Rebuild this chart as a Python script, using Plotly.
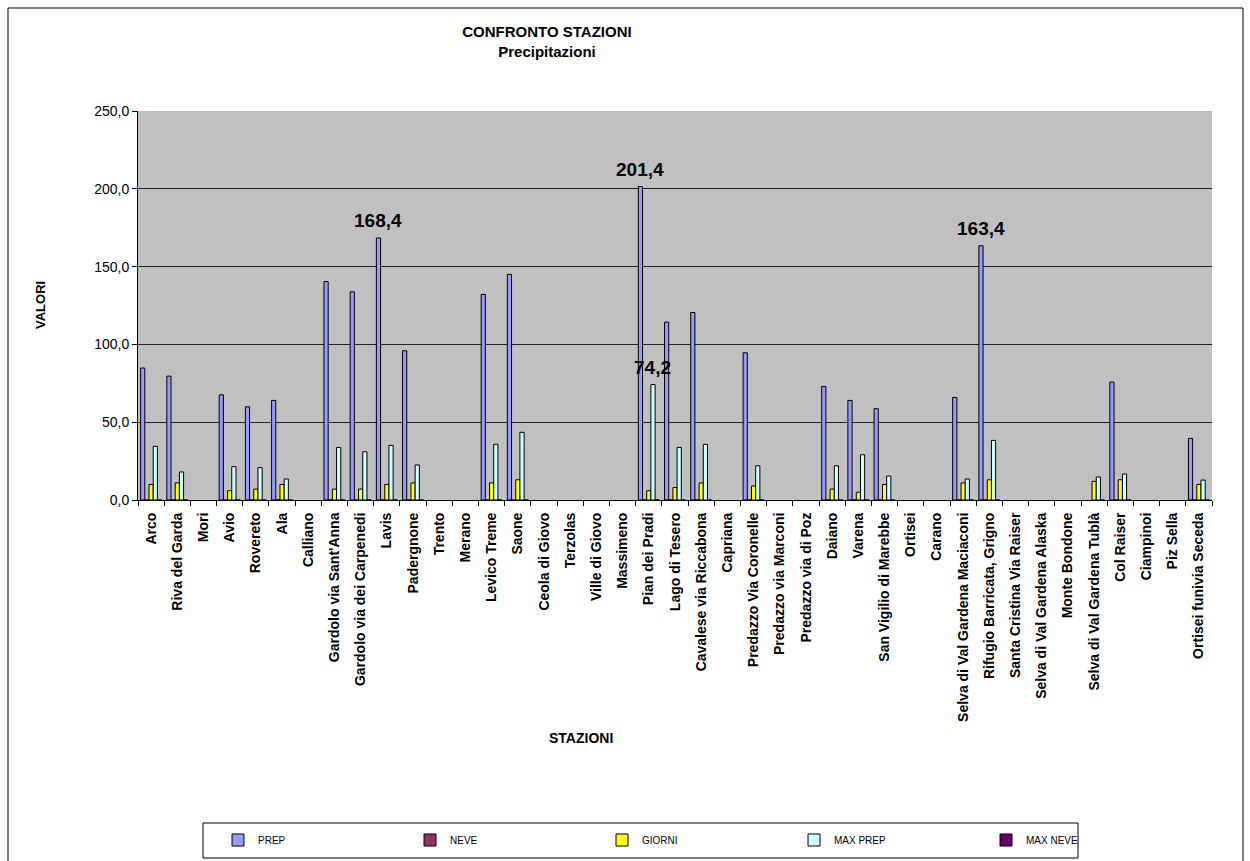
import plotly.graph_objects as go

stations = ["Arco", "Riva del Garda", "Mori", "Avio", "Rovereto", "Ala", "Calliano",
            "Gardolo via Sant'Anna", "Gardolo via dei Carpenedi", "Lavis", "Padergnone",
            "Trento", "Merano", "Levico Treme", "Saone", "Ceola di Giovo", "Terzolas",
            "Ville di Giovo", "Massimeno", "Pian dei Pradi", "Lago di Tesero",
            "Cavalese via Riccabona", "Capriana", "Predazzo Via Coronelle",
            "Predazzo via Marconi", "Predazzo via di Poz", "Daiano", "Varena",
            "San Vigilio di Marebbe", "Ortisei", "Carano", "Selva di Val Gardena Maciaconi",
            "Rifugio Barricata, Grigno", "Santa Cristina Via Raiser",
            "Selva di Val Gardena Alaska", "Monte Bondone", "Selva di Val Gardena Tublà",
            "Col Raiser", "Ciampinoi", "Piz Sella", "Ortisei funivia Seceda"]

prep = [84.8, 79.6, None, 67.6, 59.9, 64.0, None, 140.4, 133.8, 168.4, 95.9,
        None, None, 132.1, 145.0, None, None, None, None, 201.4, 114.3,
        120.5, None, 94.6, None, None, 73.0, 64.0, 58.7, None, None, 65.9,
        163.4, None, None, None, None, 75.8, None, None, 39.6]
neve = [0 if p is not None else None for p in prep]
giorni = [10, 11, None, 6, 7, 10, None, 7, 7, 10, 11,
          None, None, 11, 13, None, None, None, None, 6, 8,
          11, None, 9, None, None, 7, 5, 10, None, None, 11,
          13, None, None, None, 12, 13, None, None, 10]
max_prep = [34.5, 18.0, None, 21.4, 20.8, 13.5, None, 33.8, 31.0, 35.1, 22.5,
            None, None, 35.8, 43.5, None, None, None, None, 74.2, 33.8,
            35.8, None, 22.0, None, None, 22.0, 29.1, 15.4, None, None, 13.5,
            38.3, None, None, None, 14.8, 16.7, None, None, 12.8]
max_neve = [0 if v is not None else None for v in max_prep]

prep_labelled = ["Lavis", "Pian dei Pradi", "Rifugio Barricata, Grigno"]
maxprep_labelled = ["Pian dei Pradi"]

def fmt(v):
    return f"{v:.1f}".replace(".", ",")

W, H = 1250, 861
L, R, T, B = 138, 1212, 111, 500

def px_x(p):
    return (p - L) / (R - L)

def px_y(p):
    return (B - p) / (B - T)

FONT = "Liberation Sans, Arial, sans-serif"
line = dict(color="#000000", width=1)

fig = go.Figure()
series = [
    ("PREP", prep, "#9999FF"),
    ("NEVE", neve, "#993366"),
    ("GIORNI", giorni, "#FFFF00"),
    ("MAX PREP", max_prep, "#CCFFFF"),
    ("MAX NEVE", max_neve, "#660066"),
]
for name, vals, col in series:
    fig.add_trace(go.Bar(name=name, x=stations, y=vals,
                         marker=dict(color=col, line=line)))

BARGAP = 0.2
fig.update_layout(
    width=W, height=H,
    margin=dict(l=L, r=W - R, t=T, b=H - B, autoexpand=False),
    paper_bgcolor="#FFFFFF",
    plot_bgcolor="#C0C0C0",
    separators=",.",
    barmode="group",
    bargap=BARGAP,
    bargroupgap=0,
    font=dict(family=FONT, size=12, color="#000000"),
    title=dict(text="<b>CONFRONTO STAZIONI</b><br><b>Precipitazioni</b>",
               x=547 / W, xanchor="center", xref="container",
               y=1 - 37 / H, yanchor="middle", yref="container",
               font=dict(family=FONT, size=15, color="#000000")),
    showlegend=True,
    legend=dict(orientation="h", x=px_x(218), xanchor="left", y=px_y(840), yanchor="middle",
                bgcolor="rgba(0,0,0,0)", borderwidth=0,
                entrywidth=147, entrywidthmode="pixels",
                font=dict(family=FONT, size=10, color="#000000"),
                traceorder="normal"),
)

fig.update_xaxes(
    type="category", tickangle=-90, tickson="boundaries",
    ticks="outside", ticklen=5, tickcolor="#000000",
    showline=True, linecolor="#000000", linewidth=1,
    showgrid=False, ticklabelstandoff=6,
    tickfont=dict(family=FONT, size=14, color="#000000", weight="bold"),
)
fig.update_yaxes(
    range=[0, 250], dtick=50, tickformat=".1f",
    ticks="outside", ticklen=5, tickcolor="#000000",
    showline=True, linecolor="#000000", linewidth=1,
    showgrid=True, gridcolor="#222222", gridwidth=1,
    zeroline=False,
    tickfont=dict(family=FONT, size=14, color="#000000"),
)

# data labels on selected bars (placed via the axes' own scales)
cat_px = (R - L) / len(stations)
bar_px = cat_px * (1 - BARGAP) / len(series)
label_font = dict(family=FONT, size=19, color="#000000", weight="bold")
for s, v in zip(stations, prep):
    if s in prep_labelled:
        fig.add_annotation(x=s, y=v, text=fmt(v), showarrow=False,
                           xanchor="center", yanchor="middle",
                           xshift=-2 * bar_px, yshift=17, font=label_font)
for s, v in zip(stations, max_prep):
    if s in maxprep_labelled:
        fig.add_annotation(x=s, y=v, text=fmt(v), showarrow=False,
                           xanchor="center", yanchor="middle",
                           xshift=1 * bar_px, yshift=17, font=label_font)

fig.add_annotation(text="<b>STAZIONI</b>", xref="paper", yref="paper",
                   x=px_x(581), y=px_y(738), showarrow=False,
                   xanchor="center", yanchor="middle",
                   font=dict(family=FONT, size=14, color="#000000"))
fig.add_annotation(text="<b>VALORI</b>", xref="paper", yref="paper",
                   x=px_x(40), y=px_y(305), showarrow=False, textangle=-90,
                   xanchor="center", yanchor="middle",
                   font=dict(family=FONT, size=13, color="#000000"))

# outer chart frame
fig.add_shape(type="rect", xref="paper", yref="paper",
              x0=px_x(8), x1=px_x(1243), y0=px_y(875), y1=px_y(8),
              line=dict(color="#000000", width=1), layer="below")
# legend box
fig.add_shape(type="rect", xref="paper", yref="paper",
              x0=px_x(203), x1=px_x(1078), y0=px_y(858), y1=px_y(823),
              line=dict(color="#000000", width=1), layer="below")

fig.write_html("out.html")
